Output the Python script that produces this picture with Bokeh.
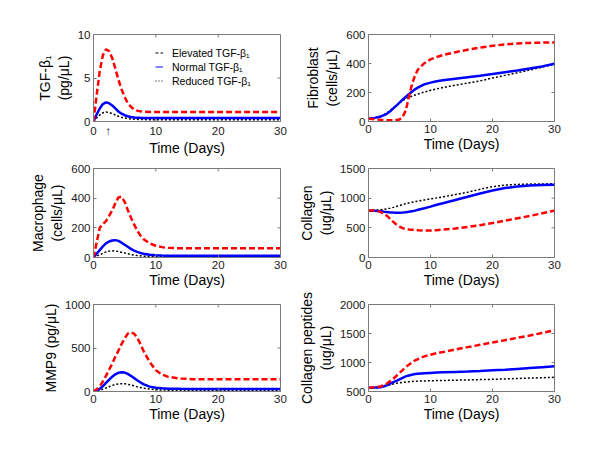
from bokeh.plotting import figure
from bokeh.layouts import row, column
from bokeh.models import Range1d, FixedTicker, Legend, LegendItem
from bokeh.embed import file_html
from bokeh.resources import INLINE

# ---------------- data ----------------
t = [0, 0.5, 1, 1.5, 2, 2.5, 3, 3.5, 4, 4.5, 5, 5.5, 6, 6.5, 7, 7.5, 8, 9, 10, 11,
     12, 14, 16, 18, 20, 22, 24, 26, 28, 30]

tgf_elev = [0, 3.0, 5.8, 7.6, 8.3, 8.1, 7.3, 6.1, 4.8, 3.7, 2.8, 2.1, 1.7, 1.4, 1.25, 1.17, 1.13, 1.1, 1.1, 1.1,
            1.1, 1.1, 1.1, 1.1, 1.1, 1.1, 1.1, 1.1, 1.1, 1.1]
tgf_norm = [0, 0.8, 1.5, 2.0, 2.2, 2.1, 1.85, 1.5, 1.15, 0.9, 0.72, 0.6, 0.52, 0.47, 0.44, 0.42, 0.41, 0.4, 0.4, 0.4,
            0.4, 0.4, 0.4, 0.4, 0.4, 0.4, 0.4, 0.4, 0.4, 0.4]
tgf_red = [0, 0.4, 0.75, 1.0, 1.08, 1.03, 0.9, 0.75, 0.6, 0.48, 0.4, 0.34, 0.3, 0.27, 0.25, 0.23, 0.22, 0.21, 0.2, 0.2,
           0.2, 0.2, 0.2, 0.2, 0.2, 0.2, 0.2, 0.2, 0.2, 0.2]

fib_elev = [20, 18, 15, 13, 11, 10, 9, 9, 9, 10, 14, 30, 75, 165, 255, 318, 360, 402, 428, 445,
            458, 478, 495, 510, 522, 532, 538, 542, 544, 545]
fib_norm = [20, 22, 25, 29, 35, 44, 55, 70, 90, 110, 130, 150, 170, 188, 205, 222, 235, 256, 268, 277,
            285, 295, 305, 315, 327, 340, 352, 365, 380, 398]
fib_red = [20, 22, 26, 31, 38, 47, 60, 77, 95, 113, 130, 144, 155, 165, 175, 183, 190, 203, 215, 225,
           234, 250, 265, 280, 300, 318, 336, 355, 375, 395]

mac_elev = [0, 100, 200, 225, 245, 280, 317, 365, 405, 410, 375, 320, 270, 225, 182, 150, 125, 95, 79, 70,
            65, 62, 62, 62, 62, 62, 62, 62, 62, 62]
mac_norm = [0, 25, 50, 75, 95, 108, 115, 117, 112, 100, 86, 72, 58, 47, 38, 31, 25, 18, 15, 13,
            12, 12, 12, 12, 12, 12, 12, 12, 12, 12]
mac_red = [0, 9, 18, 28, 38, 43, 45, 44, 40, 35, 30, 25, 20, 16, 13, 11, 9, 7, 6, 5.5,
           5, 5, 5, 5, 5, 5, 5, 5, 5, 5]

col_elev = [790, 792, 790, 782, 765, 735, 700, 650, 600, 555, 520, 495, 480, 473, 468, 464, 460, 456, 455, 460,
            470, 490, 515, 545, 580, 620, 660, 700, 745, 790]
col_norm = [790, 790, 788, 784, 780, 772, 765, 760, 757, 755, 755, 758, 762, 770, 780, 790, 805, 830, 858, 888,
            915, 970, 1025, 1080, 1130, 1170, 1195, 1212, 1220, 1225]
col_red = [790, 792, 795, 800, 805, 812, 820, 832, 845, 860, 875, 892, 908, 920, 932, 942, 952, 970, 988, 1005,
           1022, 1060, 1100, 1150, 1195, 1220, 1232, 1238, 1240, 1242]

mmp_elev = [0, 25, 60, 115, 180, 250, 320, 400, 470, 545, 610, 665, 680, 665, 620, 550, 470, 340, 245, 195,
            168, 148, 142, 140, 140, 140, 140, 140, 140, 140]
mmp_norm = [0, 12, 30, 60, 100, 135, 170, 198, 215, 222, 218, 202, 180, 155, 130, 106, 85, 56, 42, 36,
            33, 31, 30, 30, 30, 30, 30, 30, 30, 30]
mmp_red = [0, 5, 12, 25, 40, 55, 70, 80, 87, 90, 88, 82, 75, 65, 55, 46, 38, 28, 21, 17,
           15, 13, 12, 11, 11, 10.5, 10, 10, 10, 10]

pep_elev = [565, 568, 572, 578, 590, 610, 640, 680, 720, 770, 820, 870, 920, 960, 1000, 1035, 1060, 1105, 1135, 1160,
            1180, 1225, 1265, 1305, 1345, 1385, 1425, 1465, 1510, 1555]
pep_norm = [565, 566, 568, 570, 575, 590, 610, 635, 660, 685, 710, 735, 760, 777, 790, 800, 806, 814, 820, 826,
            830, 838, 846, 855, 865, 875, 890, 905, 920, 935]
pep_red = [565, 566, 568, 570, 575, 585, 600, 615, 630, 640, 650, 658, 665, 670, 673, 676, 678, 682, 685, 688,
           690, 695, 700, 705, 710, 717, 724, 731, 738, 745]

x_range = (0, 30)
x_ticks = [0, 10, 20, 30]
legend_labels = ["Elevated TGF-β₁", "Normal TGF-β₁", "Reduced TGF-β₁"]
arrow_day = 2.4
arrow_text = "↑"

# ---------------- styling ----------------
FONT = "Liberation Sans"
AX = "#7a7a7a"
TXT = "#1a1a1a"
TICK = 3


def style_axis(ax, ticks):
    ax.ticker = FixedTicker(ticks=ticks)
    ax.axis_line_color = AX
    ax.major_tick_line_color = AX
    ax.major_tick_in = TICK
    ax.major_tick_out = 0
    ax.minor_tick_line_color = None
    ax.major_label_text_font = FONT
    ax.major_label_text_color = TXT
    ax.major_label_text_font_size = "11.5px"
    ax.major_label_standoff = 3
    ax.axis_label_text_font = FONT
    ax.axis_label_text_font_size = "14px"
    ax.axis_label_text_font_style = "normal"
    ax.axis_label_text_color = "black"


def make(ylabel, yr, yticks, fw, fh, bl, br, bt, bb, ystand):
    p = figure(frame_width=fw, frame_height=fh,
               x_range=Range1d(*x_range), y_range=Range1d(*yr),
               output_backend="svg", toolbar_location=None,
               min_border_left=bl, min_border_right=br,
               min_border_top=bt, min_border_bottom=bb)
    p.grid.visible = False
    p.outline_line_color = AX
    p.background_fill_color = "white"
    p.border_fill_color = "white"
    style_axis(p.xaxis[0], x_ticks)
    style_axis(p.yaxis[0], yticks)
    p.xaxis[0].axis_label = "Time (Days)"
    p.xaxis[0].axis_label_standoff = 0
    p.yaxis[0].axis_label = ylabel
    p.yaxis[0].axis_label_standoff = ystand
    # mirrored inward ticks on the top and right edges (MATLAB "box on")
    dy = TICK * (yr[1] - yr[0]) / fh
    dx = TICK * (x_range[1] - x_range[0]) / fw
    p.segment(x0=x_ticks, y0=[yr[1]] * len(x_ticks), x1=x_ticks, y1=[yr[1] - dy] * len(x_ticks),
              line_color=AX, line_width=1)
    p.segment(x0=[x_range[1]] * len(yticks), y0=yticks, x1=[x_range[1] - dx] * len(yticks), y1=yticks,
              line_color=AX, line_width=1)
    p._dy = dy
    return p


def draw(p, elev, norm, red):
    p.line(t, red, line_color="black", line_width=1.5, line_dash="2 2")
    p.line(t, norm, line_color="#0000ff", line_width=2.5)
    p.line(t, elev, line_color="#ff0000", line_width=2.5, line_dash="6 3")


FWL, FWR = 187, 186
BL_L, BL_R = 93, 62
p1 = make("TGF-β₁\n(pg/μL)", (0, 10), [0, 5, 10], FWL, 87, BL_L, 15, 34, 37, 3)
p3 = make("Macrophage\n(cells/μL)", (0, 600), [0, 200, 400, 600], FWL, 89, BL_L, 15, 10, 37, 3)
p5 = make("MMP9 (pg/μL)", (0, 1000), [0, 500, 1000], FWL, 87, BL_L, 15, 10, 37, 3)
p2 = make("Fibroblast\n(cells/μL)", (0, 600), [0, 200, 400, 600], FWR, 87, BL_R, 20, 34, 37, 3)
p4 = make("Collagen\n(ug/μL)", (0, 1500), [0, 500, 1000, 1500], FWR, 89, BL_R, 20, 10, 33, 3)
p6 = make("Collagen peptides\n(ug/μL)", (500, 2000), [500, 1000, 1500, 2000], FWR, 87, BL_R, 20, 14, 37, 3)

draw(p1, tgf_elev, tgf_norm, tgf_red)
draw(p2, fib_elev, fib_norm, fib_red)
draw(p3, mac_elev, mac_norm, mac_red)
draw(p4, col_elev, col_norm, col_red)
draw(p5, mmp_elev, mmp_norm, mmp_red)
draw(p6, pep_elev, pep_norm, pep_red)

# arrow under the TGF-beta panel: an extra tick label (its own tick mark hidden,
# the regular bottom ticks redrawn as segments)
ax1 = p1.xaxis[0]
ax1.ticker = FixedTicker(ticks=sorted(x_ticks + [arrow_day]))
ax1.major_label_overrides = {arrow_day: arrow_text}
ax1.major_tick_in = 0
p1.segment(x0=x_ticks, y0=[0] * len(x_ticks), x1=x_ticks, y1=[p1._dy] * len(x_ticks),
           line_color=AX, line_width=1)

# legend proxies (as in the original: black dashed, blue solid, black dotted)
px = [t[0], t[0]]
py = [tgf_elev[0], tgf_elev[0]]
lr1 = p1.line(px, py, line_color="black", line_width=1.2, line_dash="3 2")
lr2 = p1.line(px, py, line_color="#3333ff", line_width=1.2)
lr3 = p1.line(px, py, line_color="black", line_width=1.2, line_dash="1 2")
leg = Legend(items=[LegendItem(label=legend_labels[0], renderers=[lr1]),
                    LegendItem(label=legend_labels[1], renderers=[lr2]),
                    LegendItem(label=legend_labels[2], renderers=[lr3])],
             location=(62, 34), orientation="vertical",
             glyph_width=8, glyph_height=13, label_height=13, label_standoff=9,
             spacing=1, padding=0, margin=0,
             label_text_font=FONT, label_text_font_size="10.5px", label_text_color="black",
             background_fill_alpha=0, border_line_alpha=0)
p1.add_layout(leg)

layout = row(column(p1, p3, p5), column(p2, p4, p6))

open("out.html", "w").write(file_html(layout, INLINE))
